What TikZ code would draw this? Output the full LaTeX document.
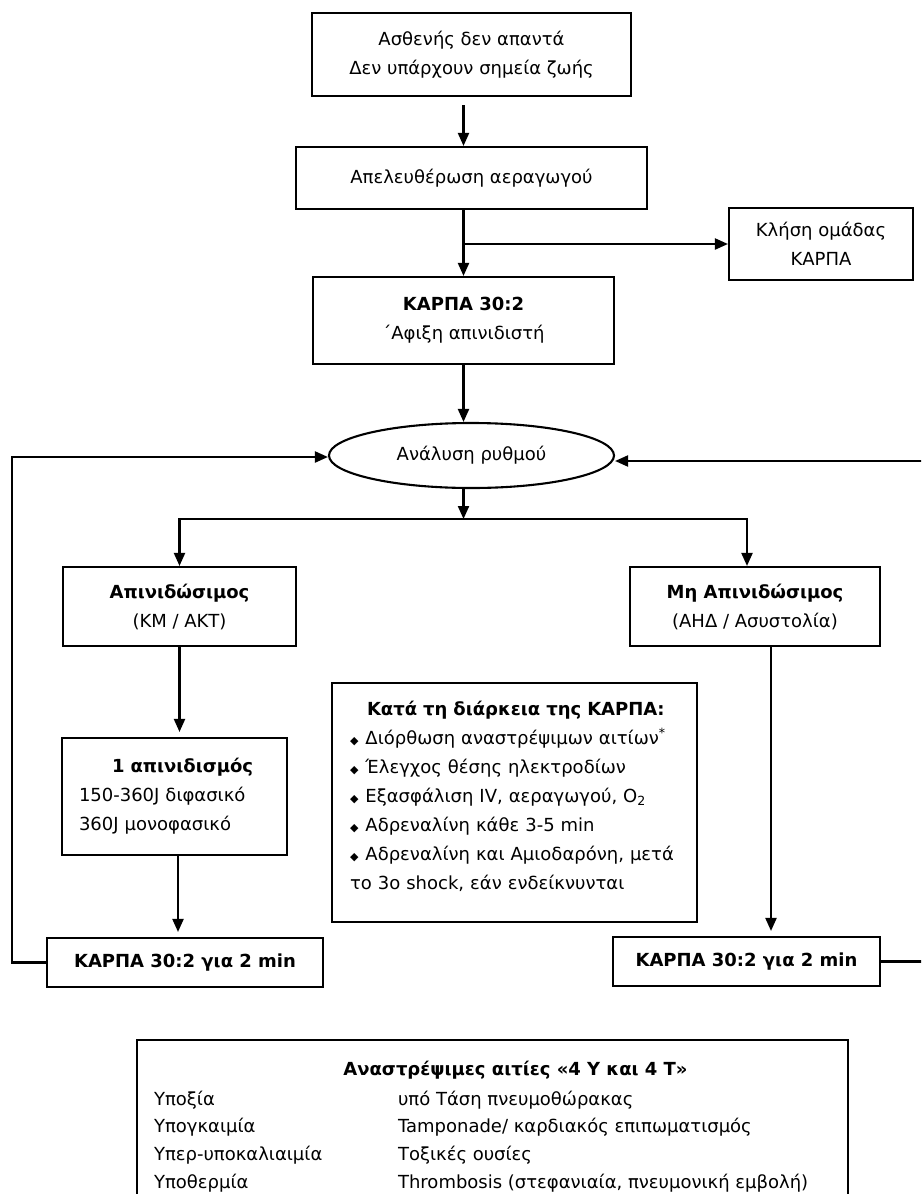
\documentclass[tikz,border=0pt]{standalone}
\usepackage{fontspec}
\setmainfont{DejaVu Sans}
\usepackage{tikz}
\usetikzlibrary{arrows.meta, shapes.geometric}

\newcommand{\rombos}{{\fontsize{11}{11}\selectfont ◆}\hspace{7pt}}

\begin{document}
\begin{tikzpicture}[x=1pt, y=-1pt, line width=2.1pt,
		font=\fontsize{18}{29}\selectfont,
		box/.style={draw, rectangle, align=center, inner sep=0pt},
		arr/.style={-{Triangle[length=13pt, width=11pt]}}]
		% Frame
		\useasboundingbox (0, 0) rectangle (921, 1194);
		\clip (0, 0) rectangle (921, 1194);

		% Top of the chain
		\node[box, minimum width=319pt, minimum height=83pt] (start) at (471.5, 54.5) {Ασθενής δεν απαντά\\Δεν υπάρχουν σημεία ζωής};
		\node[box, minimum width=351pt, minimum height=62pt] (airway) at (471.5, 178) {Απελευθέρωση αεραγωγού};
		\node[box, minimum width=184pt, minimum height=72pt] (call) at (821, 244) {Κλήση ομάδας\\ΚΑΡΠΑ};
		\node[box, minimum width=301pt, minimum height=87pt] (cpr) at (463.5, 320.5) {\textbf{ΚΑΡΠΑ 30:2}\\΄Αφιξη απινιδιστή};

		% Rhythm check
		\node[draw, ellipse, minimum width=285pt, minimum height=65pt, inner sep=0pt] (rhythm) at (471.5, 455.5) {Ανάλυση ρυθμού};
		\coordinate (split) at (463.5, 519);

		% Two branches
		\node[box, minimum width=233pt, minimum height=79pt] (shock) at (179.5, 606.5) {\textbf{Απινιδώσιμος}\\(ΚΜ / ΑΚΤ)};
		\node[box, minimum width=250pt, minimum height=79pt] (noshock) at (755, 606.5) {\textbf{Μη Απινιδώσιμος}\\(ΑΗΔ / Ασυστολία)};
		\node[box, align=left, text width=191pt, inner xsep=17pt, minimum height=117pt] (defib) at (174.5, 796.5) {\hspace*{33pt}\textbf{1 απινιδισμός}\\150-360J διφασικό\\360J μονοφασικό};

		% During CPR
		\node[box, align=left, text width=329pt, inner xsep=18pt, minimum height=239pt] (during) at (514.5, 802.5) {\hspace*{17pt}\textbf{Κατά τη διάρκεια της ΚΑΡΠΑ:}\\
			\rombos Διόρθωση αναστρέψιμων αιτίων\textsuperscript{*}\\
			\rombos Έλεγχος θέσης ηλεκτροδίων\\
			\rombos Εξασφάλιση IV, αεραγωγού, O\textsubscript{2}\\
			\rombos Αδρεναλίνη κάθε 3-5 min\\
			\rombos Αδρεναλίνη και Αμιοδαρόνη, μετά\\
			το 3ο shock, εάν ενδείκνυνται\\[-14pt]\mbox{}};

		% CPR for 2 min
		\node[box, minimum width=276pt, minimum height=49pt] (cprL) at (185, 962.5) {\textbf{ΚΑΡΠΑ 30:2 για 2 min}};
		\node[box, minimum width=267pt, minimum height=49pt] (cprR) at (746.5, 961.5) {\textbf{ΚΑΡΠΑ 30:2 για 2 min}};
		\coordinate (loopL) at (12, 962.5);
		\coordinate (loopR) at (930, 961.5);

		% Arrows
		\draw[arr] ([yshift=-8pt]start.south -| cpr.north) -- (airway.north -| cpr.north);
		\draw[arr] (airway.south -| cpr.north) -- (cpr.north);
		\draw[arr] (cpr.north |- call.west) -- (call.west);
		\draw[arr] (cpr.south) -- (cpr.south |- rhythm.north);
		\draw[arr] (rhythm.south -| split) -- (split);
		\draw[arr] (split) -| (shock.north);
		\draw[arr] (split) -| ([xshift=-8pt]noshock.north);
		\draw[arr] (shock.south) -- ([yshift=5pt]shock.south |- defib.north);
		\draw[arr] ([xshift=3.5pt]defib.south) -- ([xshift=3.5pt, yshift=5pt]defib.south |- cprL.north);
		\draw[arr] ([xshift=16pt]noshock.south) -- ([xshift=16pt, yshift=5pt]noshock.south |- cprR.north);

		% Loops back
		\draw[arr] (cprL.west) -- (loopL) |- ([yshift=-1.5pt]rhythm.west);
		\draw[arr] (cprR.east) -- (loopR) |- ([yshift=-5.5pt]rhythm.east);

		% Reversible causes
		\draw (137, 1040) rectangle (848, 1230);
		\node (causes) at (515.5, 1070) {\textbf{Αναστρέψιμες αιτίες «4 Υ και 4 Τ»}};
		\node[anchor=west, inner sep=0pt] (h1) at (153, 1100) {Υποξία};
		\node[anchor=west, inner sep=0pt] (h2) at (153, 1127) {Υπογκαιμία};
		\node[anchor=west, inner sep=0pt] (h3) at (153, 1155) {Υπερ-υποκαλιαιμία};
		\node[anchor=west, inner sep=0pt] (h4) at (153, 1183) {Υποθερμία};
		\node[anchor=west, inner sep=0pt] (t1) at (397, 1100) {υπό Τάση πνευμοθώρακας};
		\node[anchor=west, inner sep=0pt] (t2) at (397, 1127) {Tamponade/ καρδιακός επιπωματισμός};
		\node[anchor=west, inner sep=0pt] (t3) at (397, 1155) {Τοξικές ουσίες};
		\node[anchor=west, inner sep=0pt] (t4) at (397, 1183) {Thrombosis (στεφανιαία, πνευμονική εμβολή)};
	\end{tikzpicture}
\end{document}
